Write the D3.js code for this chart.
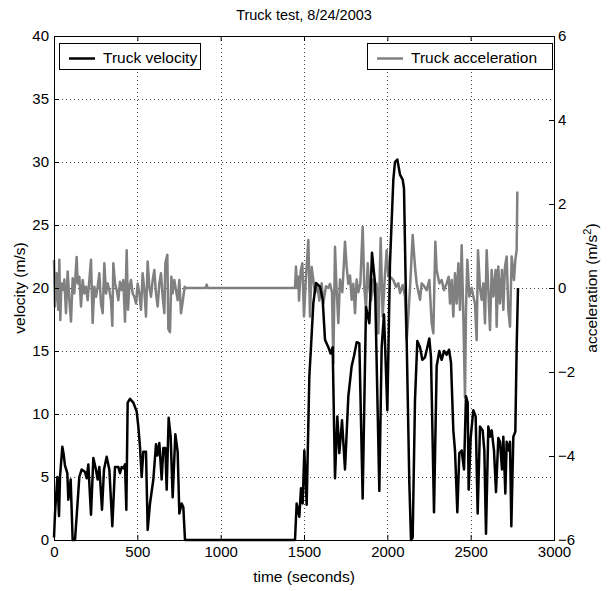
<!DOCTYPE html>
<html>
<head>
<meta charset="utf-8">
<script src="https://cdn.jsdelivr.net/npm/d3@7"></script>
<style>
  body { margin: 0; background: #fff; }
  text { font-family: "Liberation Sans", Arial, Helvetica, sans-serif; fill: #000; }
</style>
</head>
<body>
<script>

var w = 611;
var h = 591;

// time in seconds, velocity in m/s
var velocity = [[0,0.2],[6,2.1],[20,5.0],[30,1.9],[36,5.0],[50,7.4],[58,6.8],[66,5.9],[80,5.3],[86,3.2],[100,4.8],[108,1.6],[112,0],[126,0],[136,1.9],[152,5.0],[166,5.6],[186,5.4],[196,4.9],[206,6.0],[222,2.0],[236,6.5],[250,5.7],[262,4.8],[272,5.8],[288,2.4],[300,5.6],[316,6.6],[332,5.6],[350,1.1],[366,5.8],[386,5.8],[396,5.3],[406,5.8],[416,5.7],[426,6.0],[434,2.4],[442,10.9],[456,11.2],[476,10.9],[496,10.2],[506,9.0],[516,7.4],[526,5.0],[536,7.0],[552,7.0],[562,0.8],[576,2.9],[596,4.8],[612,7.6],[620,6.7],[632,7.7],[646,4.8],[656,7.3],[668,7.3],[676,4.0],[688,9.7],[700,8.2],[712,3.4],[728,8.4],[742,7.0],[752,2.1],[766,2.9],[776,2.6],[786,0],[1446,0],[1456,2.9],[1472,1.85],[1482,4.1],[1492,2.9],[1502,7.1],[1516,2.8],[1532,13.0],[1542,15.3],[1556,18.8],[1572,20.4],[1596,20.1],[1612,19.1],[1626,15.9],[1646,15.3],[1660,14.8],[1672,15.3],[1686,4.9],[1700,9.8],[1712,6.9],[1728,9.5],[1746,5.6],[1766,11.4],[1786,13.8],[1800,14.6],[1816,15.7],[1832,15.6],[1852,3.3],[1872,18.5],[1892,17.2],[1908,22.8],[1926,20.4],[1952,3.9],[1966,15.3],[1980,17.9],[2000,10.3],[2016,22.0],[2036,28.6],[2046,30.0],[2060,30.2],[2076,29.0],[2092,28.6],[2100,27.9],[2116,15.9],[2132,4.5],[2142,0],[2152,0.2],[2166,11.1],[2180,15.8],[2196,15.3],[2210,14.3],[2226,14.5],[2240,15.3],[2252,16.0],[2262,14.5],[2280,2.2],[2296,13.8],[2312,15.0],[2326,14.3],[2340,15.0],[2356,14.7],[2370,15.1],[2382,14.1],[2396,8.7],[2406,7.1],[2420,2.2],[2432,6.9],[2446,7.1],[2460,5.6],[2472,11.4],[2482,10.9],[2488,4.0],[2500,8.1],[2516,10.3],[2530,9.8],[2542,2.1],[2556,9.0],[2572,8.7],[2582,7.1],[2592,0.5],[2606,9.0],[2616,8.2],[2626,8.7],[2640,7.1],[2652,3.8],[2666,8.1],[2676,7.8],[2688,5.6],[2696,8.2],[2708,3.7],[2716,7.8],[2728,7.1],[2736,7.8],[2744,1.1],[2756,8.2],[2768,8.6],[2776,15.3],[2784,20.0]];

// time in seconds, acceleration in m/s^2
var acceleration = [[0,0.67],[6,-0.44],[16,0.35],[26,-0.52],[32,0.67],[38,-0.76],[44,0.11],[54,-0.05],[62,0.2],[72,-0.6],[82,0.39],[92,-0.29],[102,-0.8],[112,0.23],[122,-0.13],[136,0.74],[142,0.11],[152,0.27],[162,-0.44],[172,0.19],[182,-0.13],[192,0.03],[202,-0.29],[212,0.19],[222,0.67],[232,-0.83],[242,0.03],[252,-0.21],[262,0.03],[272,0.35],[282,-0.37],[292,-0.6],[302,0.59],[312,-0.13],[322,0.11],[332,-0.05],[342,-0.29],[350,-0.9],[356,0.59],[366,0.11],[376,-0.05],[386,-0.29],[396,0.15],[406,-0.05],[416,0.19],[426,-0.8],[436,0.9],[444,-0.52],[452,0.03],[462,0.19],[472,-0.13],[482,-0.21],[492,-0.37],[502,0.11],[512,-0.13],[522,-0.52],[532,0.35],[542,-0.05],[552,-0.68],[562,0.63],[572,0.03],[582,-0.21],[592,0.19],[602,0.43],[612,-0.13],[622,-0.44],[632,0.11],[642,0.35],[652,-0.21],[662,-0.6],[668,0.59],[680,0.79],[686,-0.98],[696,-1.05],[704,0.27],[712,-0.13],[722,0.19],[732,-0.05],[742,-0.29],[752,0.19],[762,-0.6],[772,-0.33],[784,0.03],[790,0],[910,0],[916,0.08],[922,0],[1446,0],[1452,0.51],[1458,0],[1466,0.27],[1470,-0.3],[1480,0.4],[1490,0.59],[1500,-0.68],[1512,0.27],[1526,1.14],[1536,-0.68],[1546,0.5],[1556,0.19],[1566,-0.12],[1580,0.04],[1592,-0.3],[1606,0.11],[1616,-0.36],[1632,0.04],[1646,0],[1656,0.1],[1668,-0.1],[1676,-1.79],[1686,0.98],[1694,0.1],[1706,-0.84],[1716,0.2],[1730,-0.1],[1746,1.1],[1756,0.5],[1766,0.1],[1776,0.3],[1786,-0.28],[1796,0.1],[1806,-0.6],[1816,0.2],[1826,-0.1],[1838,0.1],[1852,1.46],[1862,0],[1872,-0.5],[1882,0.59],[1892,0],[1902,-0.3],[1914,0.2],[1926,-0.2],[1936,0.1],[1946,-1.08],[1960,1.19],[1972,-0.68],[1984,0.2],[1996,0.9],[2006,0.3],[2016,0.27],[2036,0.19],[2052,0.03],[2066,0.11],[2076,-0.12],[2092,0.07],[2106,-0.2],[2116,-1.24],[2126,-0.68],[2136,0],[2152,1.26],[2166,0.51],[2176,0.11],[2196,-0.28],[2206,0.11],[2216,0.07],[2236,-0.05],[2252,0.19],[2266,-0.84],[2276,-1.08],[2288,1.1],[2296,0.43],[2312,0.11],[2326,0.19],[2340,-0.05],[2356,0.11],[2368,0.27],[2376,-0.37],[2386,0.19],[2396,-0.68],[2406,0.35],[2416,-0.37],[2426,0.59],[2436,-0.52],[2446,1.02],[2456,-0.68],[2466,-2.6],[2472,-0.5],[2480,0.67],[2492,-0.2],[2506,0],[2516,-0.2],[2526,-0.37],[2536,-1.24],[2544,0.9],[2556,0],[2566,-0.28],[2576,0.11],[2586,-0.84],[2596,0.9],[2606,-0.05],[2616,-1.0],[2626,0.43],[2636,-0.2],[2650,0.43],[2656,-0.92],[2666,0.51],[2676,-0.37],[2688,0.43],[2696,-0.52],[2706,0.51],[2716,0.75],[2726,-0.52],[2736,-0.92],[2746,0.75],[2760,0.19],[2768,0.67],[2776,0.9],[2780,2.3]];

var timeTicks = [0, 500, 1000, 1500, 2000, 2500, 3000];
var velTicks = [0, 5, 10, 15, 20, 25, 30, 35, 40];
var accTicks = [-6, -4, -2, 0, 2, 4, 6];
var legendNames = ["Truck velocity", "Truck acceleration"];

// plot box (avoid "top", it is a window global)
var pL = 54, pR = 554, pT = 36, pB = 540;
var fs = 15.5;      // labels and legend
var tickFs = 15;    // tick labels

var svg = d3.select("body")
        .append("svg")
        .attr("width", w)
        .attr("height", h);

var x = d3.scaleLinear().domain([0, 3000]).range([pL, pR]);
var yVel = d3.scaleLinear().domain([0, 40]).range([pB, pT]);
var yAcc = d3.scaleLinear().domain([-6, 6]).range([pB, pT]);

// dotted grid
var grid = svg.append("g")
        .attr("stroke", "#444")
        .attr("stroke-width", 1)
        .attr("stroke-dasharray", "1,3");

grid.selectAll("line.gx")
    .data(timeTicks.slice(1, -1))
    .enter().append("line")
    .attr("x1", function(d) { return Math.round(x(d)) + 0.5; })
    .attr("x2", function(d) { return Math.round(x(d)) + 0.5; })
    .attr("y1", pT)
    .attr("y2", pB);

grid.selectAll("line.gy")
    .data(velTicks.slice(1, -1))
    .enter().append("line")
    .attr("y1", function(d) { return Math.round(yVel(d)) + 0.5; })
    .attr("y2", function(d) { return Math.round(yVel(d)) + 0.5; })
    .attr("x1", pL)
    .attr("x2", pR);

var accLine = d3.line()
        .x(function(d) { return x(d[0]); })
        .y(function(d) { return yAcc(d[1]); });

var velLine = d3.line()
        .x(function(d) { return x(d[0]); })
        .y(function(d) { return yVel(d[1]); });

svg.append("path")
    .attr("d", accLine(acceleration))
    .attr("fill", "none")
    .attr("stroke", "#808080")
    .attr("stroke-width", 2.5)
    .attr("stroke-linejoin", "round");

svg.append("path")
    .attr("d", velLine(velocity))
    .attr("fill", "none")
    .attr("stroke", "#000")
    .attr("stroke-width", 2.5)
    .attr("stroke-linejoin", "round");

// axes, ticks pointing inward
function styleAxis(g) {
    g.select(".domain").remove();
    g.selectAll(".tick line").attr("stroke", "#000");
    g.selectAll("text").attr("font-size", tickFs).attr("fill", "#000")
        .style("font-family", "'Liberation Sans', Arial, sans-serif");
}

svg.append("g")
    .attr("transform", "translate(0," + pB + ")")
    .call(d3.axisBottom(x).tickValues(timeTicks).tickSizeInner(-5).tickSizeOuter(0).tickPadding(6).tickFormat(d3.format("d")))
    .call(styleAxis);

svg.append("g")
    .attr("transform", "translate(0," + pT + ")")
    .call(d3.axisTop(x).tickValues(timeTicks).tickSizeInner(-5).tickSizeOuter(0).tickFormat(""))
    .call(styleAxis);

svg.append("g")
    .attr("transform", "translate(" + pL + ",0)")
    .call(d3.axisLeft(yVel).tickValues(velTicks).tickSizeInner(-5).tickSizeOuter(0).tickPadding(5))
    .call(styleAxis);

svg.append("g")
    .attr("transform", "translate(" + pR + ",0)")
    .call(d3.axisRight(yAcc).tickValues(accTicks).tickSizeInner(-5).tickSizeOuter(0).tickPadding(4))
    .call(styleAxis);

svg.append("rect")
    .attr("x", pL + 0.5)
    .attr("y", pT + 0.5)
    .attr("width", pR - pL)
    .attr("height", pB - pT)
    .attr("fill", "none")
    .attr("stroke", "#000")
    .attr("stroke-width", 1);

// title and labels
svg.append("text")
    .attr("x", (pL + pR) / 2)
    .attr("y", 20)
    .attr("text-anchor", "middle")
    .attr("font-size", 14.5)
    .text("Truck test, 8/24/2003");

svg.append("text")
    .attr("x", (pL + pR) / 2)
    .attr("y", 582)
    .attr("text-anchor", "middle")
    .attr("font-size", fs)
    .text("time (seconds)");

svg.append("text")
    .attr("transform", "translate(25," + (pT + pB) / 2 + ") rotate(-90)")
    .attr("text-anchor", "middle")
    .attr("font-size", fs)
    .text("velocity (m/s)");

var accLabel = svg.append("text")
    .attr("transform", "translate(597," + (pT + pB) / 2 + ") rotate(-90)")
    .attr("text-anchor", "middle")
    .attr("font-size", fs);
accLabel.append("tspan").text("acceleration (m/s");
accLabel.append("tspan").attr("font-size", 11).attr("dy", -6).text("2");
accLabel.append("tspan").attr("dy", 6).text(")");

// legends
var legends = [
    { name: legendNames[0], color: "#000", x: 59, w: 141 },
    { name: legendNames[1], color: "#808080", x: 367, w: 185 }
];

var lg = svg.selectAll("g.legend")
        .data(legends)
        .enter()
        .append("g")
        .attr("class", "legend")
        .attr("transform", function(d) { return "translate(" + d.x + ",43)"; });

lg.append("rect")
    .attr("x", 0.5)
    .attr("y", 0.5)
    .attr("width", function(d) { return d.w; })
    .attr("height", 26)
    .attr("fill", "#fff")
    .attr("stroke", "#000")
    .attr("stroke-width", 1);

lg.append("line")
    .attr("x1", 10)
    .attr("x2", 36)
    .attr("y1", 15.5)
    .attr("y2", 15.5)
    .attr("stroke", function(d) { return d.color; })
    .attr("stroke-width", 2.5);

lg.append("text")
    .attr("x", 44)
    .attr("y", 20)
    .attr("font-size", fs)
    .text(function(d) { return d.name; });

</script>
</body>
</html>
